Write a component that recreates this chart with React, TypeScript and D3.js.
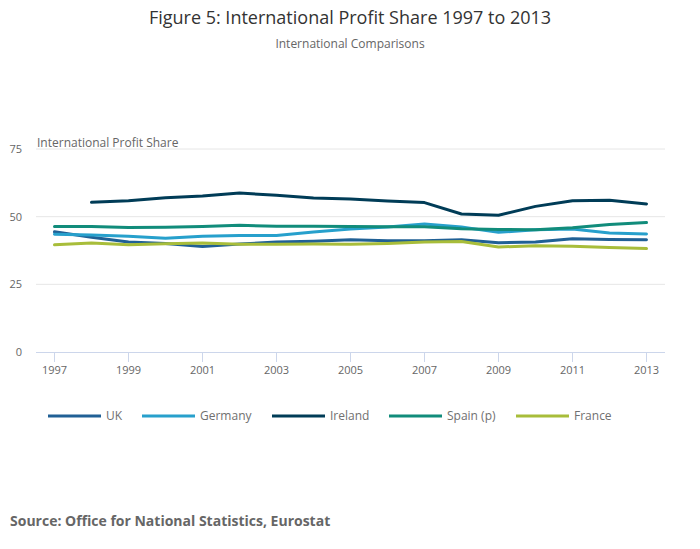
import { useEffect, useRef } from 'react';
import * as d3 from 'd3';

const years = ['1997', '1998', '1999', '2000', '2001', '2002', '2003', '2004', '2005', '2006', '2007', '2008', '2009', '2010', '2011', '2012', '2013'];

const uk = [44.4, 42.4, 40.6, 40.1, 39.0, 39.9, 40.6, 40.9, 41.5, 41.1, 41.1, 41.5, 40.4, 40.6, 41.8, 41.6, 41.5];
const germany = [43.5, 43.2, 42.8, 42.0, 42.8, 43.0, 43.0, 44.3, 45.4, 46.2, 47.3, 46.2, 44.2, 45.2, 45.4, 44.0, 43.6];
const ireland = [null, 55.3, 55.9, 57.0, 57.6, 58.7, 57.9, 56.9, 56.5, 55.8, 55.2, 51.0, 50.5, 53.8, 55.9, 56.1, 54.7];
const spain = [46.4, 46.4, 46.0, 46.1, 46.4, 46.8, 46.5, 46.5, 46.4, 46.3, 46.3, 45.5, 45.3, 45.2, 45.9, 47.1, 47.8];
const france = [39.6, 40.3, 39.6, 40.0, 40.3, 39.8, 39.8, 39.9, 39.8, 40.1, 40.6, 40.8, 38.8, 39.3, 39.1, 38.6, 38.2];

const seriesNames = ['UK', 'Germany', 'Ireland', 'Spain (p)', 'France'];
const seriesColors = ['#206095', '#27a0cc', '#003c57', '#118c7b', '#a8bd3a'];
const yTicks = [0, 25, 50, 75];
const xTickLabels = years.filter((_, i) => i % 2 === 0);

const W = 700;
const H = 549;
const PLOT = { left: 36, right: 665, top: 149, bottom: 352 };
const FONT = '"Open Sans", sans-serif';

export default function App() {
  const svgRef = useRef<SVGSVGElement>(null);

  useEffect(() => {
    if (!svgRef.current) return;
    const svg = d3.select(svgRef.current);
    svg.selectAll('*').remove();

    const allSeries = [uk, germany, ireland, spain, france];

    const x = d3.scalePoint<string>().domain(years).range([PLOT.left, PLOT.right]).padding(0.5);
    const y = d3.scaleLinear().domain([0, 75]).range([PLOT.bottom, PLOT.top]);

    svg.append('text')
      .attr('x', W / 2).attr('y', 24)
      .attr('text-anchor', 'middle')
      .attr('font-size', 18).attr('fill', '#333333')
      .text('Figure 5: International Profit Share 1997 to 2013');

    svg.append('text')
      .attr('x', W / 2).attr('y', 48)
      .attr('text-anchor', 'middle')
      .attr('font-size', 12).attr('fill', '#666666')
      .text('International Comparisons');

    // gridlines
    svg.append('g')
      .selectAll('line')
      .data(yTicks.filter((t) => t > 0))
      .join('line')
      .attr('x1', PLOT.left).attr('x2', PLOT.right)
      .attr('y1', (d) => y(d)).attr('y2', (d) => y(d))
      .attr('stroke', '#e6e6e6').attr('stroke-width', 1);

    svg.append('g')
      .selectAll('text')
      .data(yTicks)
      .join('text')
      .attr('x', 22).attr('y', (d) => y(d))
      .attr('dy', '0.35em')
      .attr('text-anchor', 'end')
      .attr('font-size', 11).attr('fill', '#666666')
      .text((d) => d);

    svg.append('text')
      .attr('x', 37).attr('y', 147)
      .attr('font-size', 12).attr('fill', '#666666')
      .text('International Profit Share');

    // x axis
    svg.append('line')
      .attr('x1', PLOT.left).attr('x2', PLOT.right)
      .attr('y1', PLOT.bottom + 0.5).attr('y2', PLOT.bottom + 0.5)
      .attr('stroke', '#ccd6eb');

    const xt = svg.append('g')
      .selectAll('g')
      .data(xTickLabels)
      .join('g')
      .attr('transform', (d) => `translate(${x(d)},${PLOT.bottom})`);
    xt.append('line').attr('y1', 0).attr('y2', 10).attr('stroke', '#ccd6eb');
    xt.append('text')
      .attr('y', 22).attr('text-anchor', 'middle')
      .attr('font-size', 11).attr('fill', '#666666')
      .text((d) => d);

    const line = d3.line<number | null>()
      .defined((d) => d !== null)
      .x((_, i) => x(years[i]) ?? 0)
      .y((d) => y(d as number));

    allSeries.forEach((s, i) => {
      svg.append('path')
        .datum(s)
        .attr('d', line)
        .attr('fill', 'none')
        .attr('stroke', seriesColors[i])
        .attr('stroke-width', 3)
        .attr('stroke-linejoin', 'round')
        .attr('stroke-linecap', 'round');
    });

    // legend
    const legendX = [48, 142, 272, 389, 516];
    const lg = svg.append('g')
      .selectAll('g')
      .data(seriesNames)
      .join('g')
      .attr('transform', (_, i) => `translate(${legendX[i]},416)`);
    lg.append('line')
      .attr('x1', 0).attr('x2', 53)
      .attr('stroke', (_, i) => seriesColors[i])
      .attr('stroke-width', 3);
    lg.append('text')
      .attr('x', 58).attr('dy', '0.35em')
      .attr('font-size', 12).attr('fill', '#707070')
      .text((d) => d);

    svg.append('text')
      .attr('x', 10).attr('y', 526)
      .attr('font-size', 14).attr('font-weight', 'bold').attr('fill', '#666666')
      .text('Source: Office for National Statistics, Eurostat');
  }, []);

  return (
    <svg
      ref={svgRef}
      width={W}
      height={H}
      style={{ display: 'block', position: 'absolute', left: 0, top: 0, fontFamily: FONT, background: '#fff' }}
    />
  );
}
